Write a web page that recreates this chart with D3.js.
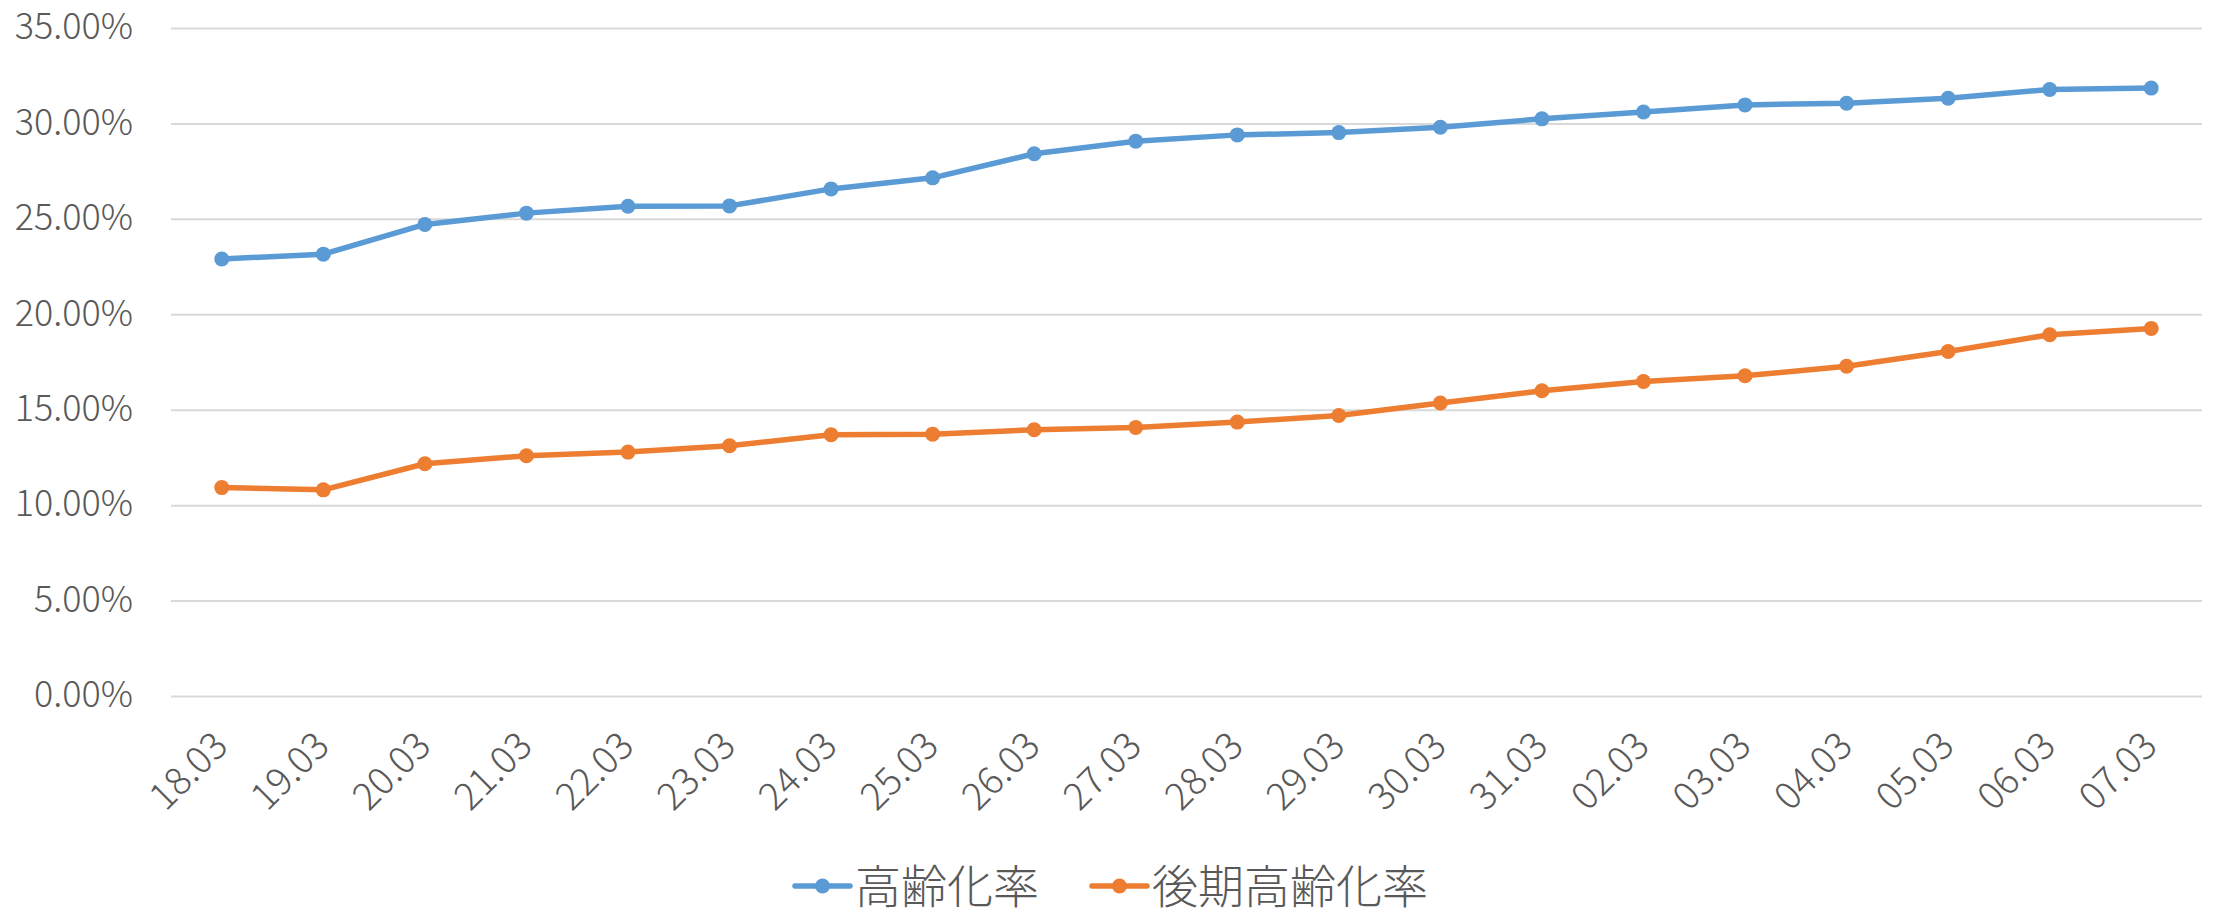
<!DOCTYPE html>
<html>
<head>
<meta charset="utf-8">
<script src="https://cdn.jsdelivr.net/npm/d3@7"></script>
<style>
  body { margin: 0; background: #fff; }
  svg text { font-family: "Noto Sans CJK JP", "Noto Sans", sans-serif; fill: #595959; font-weight: 300; }
</style>
</head>
<body>
<svg id="chart" width="2216" height="912"></svg>
<script>
const categories = ["18.03", "19.03", "20.03", "21.03", "22.03", "23.03", "24.03", "25.03", "26.03", "27.03",
	"28.03", "29.03", "30.03", "31.03", "02.03", "03.03", "04.03", "05.03", "06.03", "07.03"];

// 高齢化率
const agingRate = [0.2290, 0.2315, 0.2471, 0.2530, 0.2566, 0.2568, 0.2657, 0.2715, 0.2841, 0.2907,
	0.2940, 0.2952, 0.2980, 0.3024, 0.3060, 0.3097, 0.3106, 0.3132, 0.3178, 0.3185];

// 後期高齢化率
const lateAgingRate = [0.1092, 0.1080, 0.1217, 0.1259, 0.1278, 0.1311, 0.1369, 0.1372, 0.1395, 0.1407,
	0.1435, 0.1470, 0.1535, 0.1599, 0.1648, 0.1678, 0.1728, 0.1805, 0.1893, 0.1926];

const yTicks = [0, 0.05, 0.10, 0.15, 0.20, 0.25, 0.30, 0.35];

const seriesNames = ["高齢化率", "後期高齢化率"];
const seriesColors = ["#5B9BD5", "#ED7D31"];

const width = 2216,
	height = 912;
const margin = { top: 28, right: 14, bottom: 216, left: 171 };
const plotBottom = height - margin.bottom;

const svg = d3.select("#chart");

const x = d3
	.scaleBand()
	.domain(categories)
	.range([margin.left, width - margin.right]);

const y = d3
	.scaleLinear()
	.domain([0, 0.35])
	.range([plotBottom, margin.top]);

// gridlines + y labels
const yAxis = svg
	.append("g")
	.attr("transform", `translate(${margin.left},0)`)
	.call(
		d3
		.axisLeft(y)
		.tickValues(yTicks)
		.tickFormat(d3.format(".2%"))
		.tickSize(-(width - margin.left - margin.right))
		.tickPadding(38)
	);
yAxis.select(".domain").remove();
yAxis.selectAll(".tick line").attr("stroke", "#D9D9D9").attr("stroke-width", 2);
yAxis
	.selectAll(".tick text")
	.attr("font-size", 36)
	.attr("dy", "0.3em")
	.style("font-family", '"Noto Sans CJK JP", sans-serif')
	.attr("fill", "#595959");

// x labels
svg
	.append("g")
	.selectAll("text")
	.data(categories)
	.join("text")
	.attr("font-size", 38)
	.attr("text-anchor", "end")
	.attr("transform", (d) => `translate(${x(d) + x.bandwidth() / 2 + 8},${plotBottom + 52}) rotate(-45)`)
	.text((d) => d);

const allSeries = [agingRate, lateAgingRate];

const line = d3
	.line()
	.x((d, i) => x(categories[i]) + x.bandwidth() / 2)
	.y((d) => y(d));

allSeries.forEach((values, s) => {
	svg
		.append("path")
		.datum(values)
		.attr("fill", "none")
		.attr("stroke", seriesColors[s])
		.attr("stroke-width", 5.5)
		.attr("stroke-linejoin", "round")
		.attr("d", line);

	svg
		.append("g")
		.selectAll("circle")
		.data(values)
		.join("circle")
		.attr("cx", (d, i) => x(categories[i]) + x.bandwidth() / 2)
		.attr("cy", (d) => y(d))
		.attr("r", 7.5)
		.attr("fill", seriesColors[s]);
});

// legend
const legendY = 886;
const legendX = [795, 1092];
const legend = svg
	.append("g")
	.selectAll("g")
	.data(seriesNames)
	.join("g")
	.attr("transform", (d, i) => `translate(${legendX[i]},${legendY})`);

legend
	.append("line")
	.attr("x1", 0)
	.attr("x2", 55)
	.attr("stroke", (d, i) => seriesColors[i])
	.attr("stroke-width", 5.5)
	.attr("stroke-linecap", "round");

legend
	.append("circle")
	.attr("cx", 27.5)
	.attr("r", 7.5)
	.attr("fill", (d, i) => seriesColors[i]);

legend
	.append("text")
	.attr("x", 60)
	.attr("dy", "0.36em")
	.attr("font-size", 46)
	.text((d) => d);
</script>
</body>
</html>
